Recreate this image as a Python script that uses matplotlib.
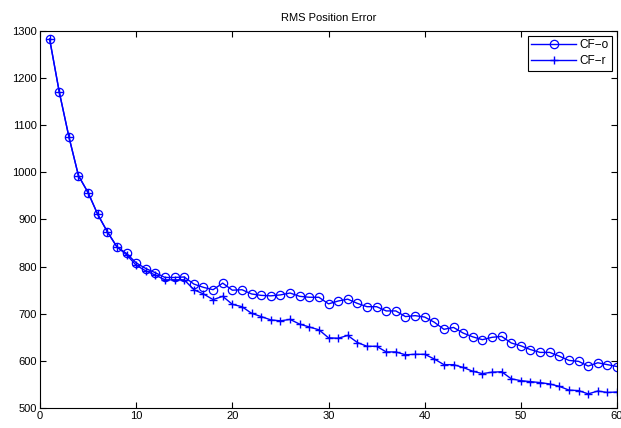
#!/usr/bin/env python3

import matplotlib
matplotlib.use('Agg')
import matplotlib.pyplot as plt

# data
steps = list(range(1, 61))

cf_o = [1283, 1171, 1076, 993, 957, 911, 874, 842, 828, 808,
        796, 787, 777, 777, 778, 763, 756, 751, 765, 750,
        751, 742, 739, 738, 740, 744, 737, 735, 735, 721,
        727, 731, 722, 715, 715, 706, 706, 694, 696, 693,
        682, 667, 671, 659, 651, 645, 650, 652, 638, 632,
        624, 618, 618, 610, 601, 599, 589, 596, 592, 588]

cf_r = [1283, 1171, 1076, 993, 957, 911, 874, 842, 825, 803,
        791, 782, 772, 772, 772, 751, 742, 730, 737, 720,
        715, 701, 694, 687, 685, 688, 678, 672, 666, 649,
        648, 654, 639, 631, 631, 619, 619, 613, 614, 614,
        604, 592, 592, 586, 578, 573, 576, 577, 562, 558,
        556, 554, 551, 546, 538, 537, 530, 536, 533, 534]

labels = ['CF\u2212o', 'CF\u2212r']


def main():
    plt.rcParams['font.family'] = ['Liberation Sans', 'DejaVu Sans']
    plt.rcParams['font.size'] = 8

    fig = plt.figure(figsize=(6.21, 4.28), dpi=100)
    ax = fig.add_axes([0.0644, 0.0467, 0.9292, 0.8809])

    ax.plot(steps, cf_o, color='#0000ff', lw=1.0, marker='o', ms=6,
            mfc='none', mew=0.9, label=labels[0])
    ax.plot(steps, cf_r, color='#0000ff', lw=1.0, marker='+', ms=6,
            mew=1.0, label=labels[1])

    ax.set_xlim(0, 60)
    ax.set_ylim(500, 1300)
    ax.set_xticks(range(0, 61, 10))
    ax.set_yticks(range(500, 1301, 100))
    ax.tick_params(direction='in', top=True, right=True, length=4,
                   width=0.8, labelsize=8, pad=2)
    for sp in ax.spines.values():
        sp.set_linewidth(0.8)

    ax.set_title('RMS Position Error', fontsize=8, pad=7)

    leg = ax.legend(loc='upper right', fontsize=8.5, fancybox=False,
                    edgecolor='black', framealpha=1, borderaxespad=0.4,
                    handlelength=3.8, borderpad=0.3, labelspacing=0.35,
                    handletextpad=0.3)
    leg.get_frame().set_linewidth(0.8)

    fig.savefig('out.png', dpi=100)


if __name__ == '__main__':
    main()
